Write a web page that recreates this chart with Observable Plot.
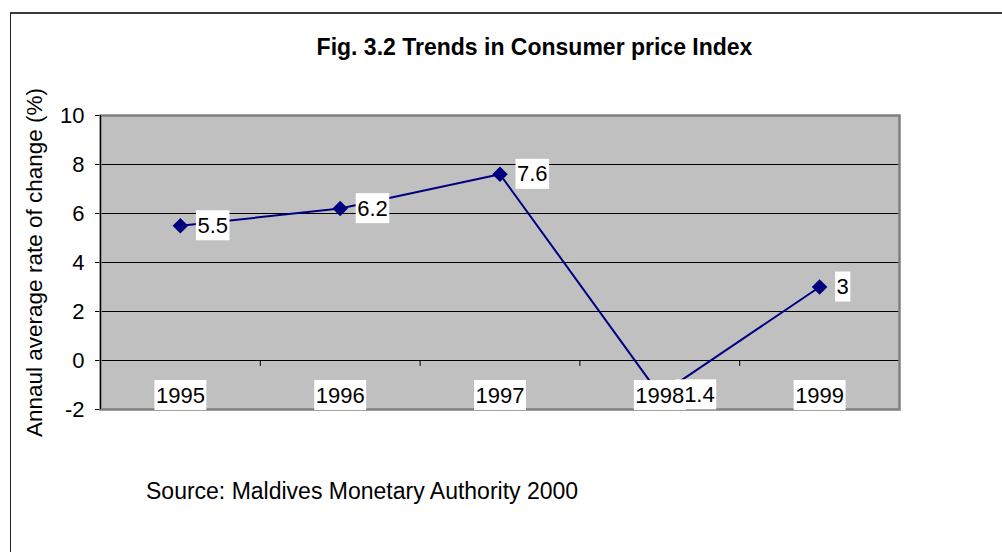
<!DOCTYPE html>
<html><head><meta charset="utf-8">
<script src="https://cdn.jsdelivr.net/npm/d3@7"></script>
<script src="https://cdn.jsdelivr.net/npm/@observablehq/plot@0.6"></script>
<style>
body{margin:0;background:#fff;}
#wrap{position:relative;width:1002px;height:552px;overflow:hidden;font-family:"Liberation Sans",Arial,sans-serif;color:#000;}
#border{position:absolute;left:10px;top:12px;width:1100px;height:700px;border-top:2px solid #3a3a3a;border-left:1.5px solid #222;box-sizing:border-box;}
#title{position:absolute;left:0;width:1069px;top:36px;text-align:center;font-weight:bold;font-size:23px;line-height:23px;white-space:nowrap;}
#source{position:absolute;left:146px;top:480px;font-size:23px;line-height:23px;white-space:nowrap;}
#chart{position:absolute;left:0;top:0;}
</style></head>
<body><div id="wrap"><div id="border"></div><div id="chart"></div><div id="title">Fig. 3.2 Trends in Consumer price Index</div><div id="source">Source: Maldives Monetary Authority 2000</div></div>
<script>
const years = [1995, 1996, 1997, 1998, 1999];
const cpiChange = [5.5, 6.2, 7.6, -1.4, 3];
const yTicks = [-2, 0, 2, 4, 6, 8, 10];
const gridValues = [0, 2, 4, 6, 8];
const yLabel = "Annaul average rate of change (%)";

const data = years.map((year, i) => ({year, value: cpiChange[i]}));
const boundaries = years.map(y => y + 0.5);
const navy = "#000080";
const font = "'Liberation Sans', Arial, sans-serif";

const plot = Plot.plot({
  width: 1002, height: 552,
  marginLeft: 100, marginRight: 103, marginTop: 115, marginBottom: 143,
  style: {fontFamily: font, fontSize: "22px", color: "#000", background: "transparent", overflow: "visible"},
  x: {type: "linear", domain: [years[0] - 0.5, years[years.length - 1] + 0.5], axis: null},
  y: {domain: [-2, 10], ticks: yTicks, tickSize: 5, tickPadding: 11, label: null, tickFormat: d => String(d)},
  marks: [
    Plot.frame({fill: "#C0C0C0"}),
    Plot.ruleY(gridValues, {stroke: "#000", strokeWidth: 1}),
    Plot.ruleX(boundaries, {y1: 0, y2: 0, insetTop: 6, stroke: "#000"}),
    Plot.frame({stroke: "#808080", strokeWidth: 2.5}),
    Plot.ruleX([years[0] - 0.5], {stroke: "#000", strokeWidth: 1}),
    Plot.line(data, {x: "year", y: "value", stroke: navy, strokeWidth: 2}),
    Plot.dot(data, {x: "year", y: "value", symbol: "diamond2", r: 7, fill: navy, stroke: "none"}),
    Plot.text(data, {x: "year", y: "value", text: d => String(d.value), textAnchor: "start", dx: 17, lineAnchor: "middle", fontSize: 22, fill: "#000"}),
    Plot.text(years, {x: d => d, text: d => String(d), frameAnchor: "bottom", dy: -14, lineAnchor: "middle", fontSize: 22, fill: "#000"}),
    Plot.text([yLabel], {text: d => d, frameAnchor: "left", textAnchor: "middle", rotate: -90, dx: -66, dy: 0, fontSize: 22.5, fill: "#000"})
  ]
});
document.getElementById("chart").appendChild(plot);

function addBoxes(group, padX, padY) {
  if (!group) return;
  group.querySelectorAll("text").forEach(t => {
    const b = t.getBBox();
    const r = document.createElementNS("http://www.w3.org/2000/svg", "rect");
    r.setAttribute("x", b.x - padX);
    r.setAttribute("y", b.y - padY);
    r.setAttribute("width", b.width + 2 * padX);
    r.setAttribute("height", b.height + 2 * padY);
    r.setAttribute("fill", "#fff");
    r.setAttribute("stroke", "none");
    const tr = t.getAttribute("transform");
    if (tr) r.setAttribute("transform", tr);
    t.parentNode.insertBefore(r, t);
  });
}
const textGroups = plot.querySelectorAll('g[aria-label="text"]');
addBoxes(textGroups[0], 1.5, 2.5);
addBoxes(textGroups[1], 1.5, 2.5);
</script>
</body></html>
